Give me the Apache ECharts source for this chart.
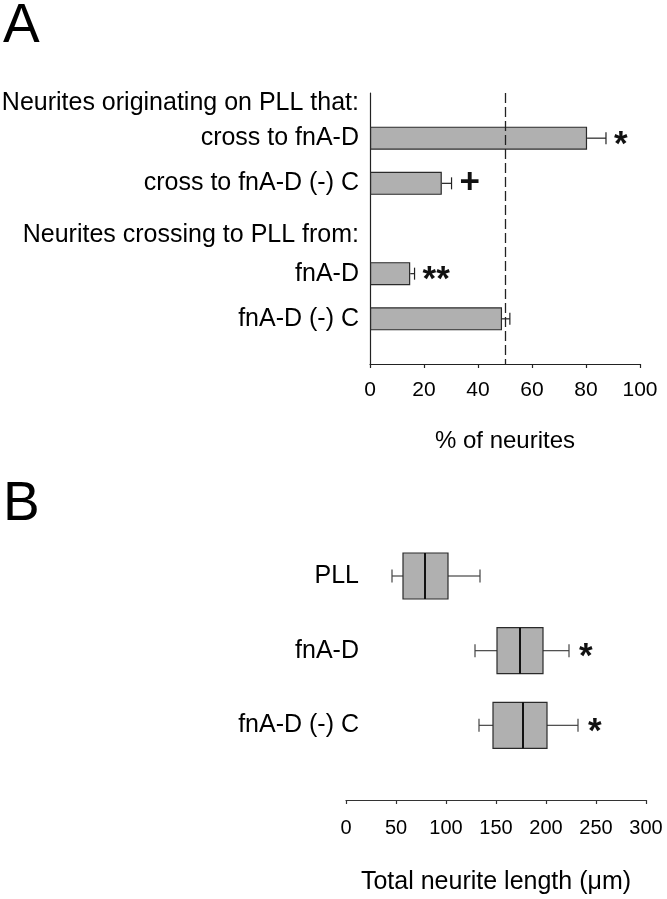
<!DOCTYPE html>
<html>
<head>
<meta charset="utf-8">
<script src="https://cdn.jsdelivr.net/npm/echarts@6/dist/echarts.min.js"></script>
<style>html,body{margin:0;padding:0;background:#fff}#c{width:667px;height:899px}</style>
</head>
<body>
<div id="c"></div>
<script>
// Panel A data
const headersA = ["Neurites originating on PLL that:", "Neurites crossing to PLL from:"];
const rowsA = ["cross to fnA-D", "cross to fnA-D (-) C", "fnA-D", "fnA-D (-) C"];
const pctNeurites = [80.4, 26.6, 14.9, 48.9];
const pctErr = [7.0, 3.6, 1.6, 2.9];
const sigA = ["*", "+", "**", ""];
const refLineA = 50;

// Panel B data
const groupsB = ["PLL", "fnA-D", "fnA-D (-) C"];
const lenMin = [46, 129, 133];
const lenQ1 = [57, 151, 147];
const lenMedian = [79, 174, 177];
const lenQ3 = [102, 197, 201];
const lenMax = [134, 223, 232];
const sigB = ["", "*", "*"];

const FONT = '"Liberation Sans", Arial, Helvetica, sans-serif';
const FILL = '#b0b0b0';
const EDGE = '#2a2a2a';

const catsA = [headersA[0], rowsA[0], rowsA[1], headersA[1], rowsA[2], rowsA[3], ''];
const catsB = groupsB.concat(['']);

function sigText(txt, x, y) {
  const fs = 35;
  const dy = txt.indexOf('*') >= 0 ? 0.2 * fs : 0;
  return {
    type: 'text',
    style: {
      text: txt, x: x, y: y + dy, fill: '#111',
      font: 'bold ' + fs + 'px ' + FONT,
      align: 'left', verticalAlign: 'middle'
    }
  };
}

const chart = echarts.init(document.getElementById('c'), null, {renderer: 'canvas'});
const option = {
  animation: false,
  backgroundColor: '#fff',
  textStyle: {fontFamily: FONT},
  title: [
    {text: 'A', left: 3, top: -1, padding: 0, textStyle: {fontSize: 55, fontWeight: 'normal', color: '#000', fontFamily: FONT}},
    {text: 'B', left: 3, top: 477, padding: 0, textStyle: {fontSize: 55, fontWeight: 'normal', color: '#000', fontFamily: FONT}}
  ],
  grid: [
    {left: 370, top: 93, width: 270, height: 271, outerBoundsMode: 'none'},
    {left: 346, top: 576, width: 300, height: 224, outerBoundsMode: 'none'}
  ],
  xAxis: [
    {
      gridIndex: 0, type: 'value', min: 0, max: 100, interval: 20,
      name: '% of neurites', nameLocation: 'middle', nameGap: 65,
      nameTextStyle: {fontSize: 24, color: '#000', fontFamily: FONT},
      axisLine: {show: true, lineStyle: {color: '#222', width: 1.2}},
      axisTick: {show: true, length: 4, lineStyle: {color: '#222', width: 1.2}},
      axisLabel: {fontSize: 21, color: '#000', margin: 16, fontFamily: FONT},
      splitLine: {show: false}
    },
    {
      gridIndex: 1, type: 'value', min: 0, max: 300, interval: 50,
      name: 'Total neurite length (\u03bcm)', nameLocation: 'middle', nameGap: 70,
      nameTextStyle: {fontSize: 25, color: '#000', fontFamily: FONT},
      axisLine: {show: true, lineStyle: {color: '#333', width: 1.2}},
      axisTick: {show: true, length: 4, lineStyle: {color: '#333', width: 1.2}},
      axisLabel: {fontSize: 20, color: '#000', margin: 18, fontFamily: FONT},
      splitLine: {show: false}
    }
  ],
  yAxis: [
    {
      gridIndex: 0, type: 'category', data: catsA, inverse: true, boundaryGap: false,
      axisLine: {show: true, lineStyle: {color: '#222', width: 1.2}},
      axisTick: {show: false},
      splitLine: {show: false},
      axisLabel: {
        interval: 0, margin: 11, fontSize: 25, color: '#000', fontFamily: FONT,
        formatter: function (v) {
          if (v === headersA[0]) return '{h1|' + v + '}';
          if (v === headersA[1]) return '{h2|' + v + '}';
          return v;
        },
        rich: {
          h1: {fontSize: 25, color: '#000', fontFamily: FONT, padding: [20, 0, 0, 0]},
          h2: {fontSize: 25, color: '#000', fontFamily: FONT, padding: [13, 0, 0, 0]}
        }
      }
    },
    {
      gridIndex: 1, type: 'category', data: catsB, inverse: true, boundaryGap: false,
      axisLine: {show: false}, axisTick: {show: false}, splitLine: {show: false},
      axisLabel: {interval: 0, margin: -13, fontSize: 25, color: '#000', fontFamily: FONT}
    }
  ],
  series: [
    {
      type: 'bar', xAxisIndex: 0, yAxisIndex: 0, barWidth: 23,
      data: rowsA.map((r, i) => [pctNeurites[i], r]),
      encode: {x: 0, y: 1},
      itemStyle: {color: FILL, borderColor: EDGE, borderWidth: 1.2},
      markLine: {
        silent: true, symbol: 'none', label: {show: false},
        lineStyle: {type: [10, 4], color: '#222', width: 1.3},
        data: [{xAxis: refLineA}]
      }
    },
    {
      type: 'custom', xAxisIndex: 0, yAxisIndex: 0,
      data: rowsA.map((r, i) => [pctNeurites[i], pctErr[i], r]),
      encode: {x: [0, 1], y: 2},
      renderItem: function (params, api) {
        const v = api.value(0), e = api.value(1), c = api.value(2);
        const p0 = api.coord([v, c]);
        const p1 = api.coord([v + e, c]);
        const st = {stroke: '#222', lineWidth: 1.2};
        const children = [
          {type: 'line', shape: {x1: p0[0], y1: p0[1], x2: p1[0], y2: p1[1]}, style: st},
          {type: 'line', shape: {x1: p1[0], y1: p1[1] - 6, x2: p1[0], y2: p1[1] + 6}, style: st}
        ];
        const s = sigA[params.dataIndex];
        if (s) children.push(sigText(s, p1[0] + 8, p1[1]));
        return {type: 'group', children: children};
      }
    },
    {
      type: 'custom', xAxisIndex: 1, yAxisIndex: 1,
      data: groupsB.map((g, i) => [lenMin[i], lenQ1[i], lenMedian[i], lenQ3[i], lenMax[i], g]),
      encode: {x: [0, 1, 2, 3, 4], y: 5},
      renderItem: function (params, api) {
        const c = api.value(5);
        const pMin = api.coord([api.value(0), c]);
        const pQ1 = api.coord([api.value(1), c]);
        const pMed = api.coord([api.value(2), c]);
        const pQ3 = api.coord([api.value(3), c]);
        const pMax = api.coord([api.value(4), c]);
        const y = pMed[1], h = 46, cap = 6.5;
        const ws = {stroke: '#444', lineWidth: 1.2};
        const children = [
          {type: 'line', shape: {x1: pMin[0], y1: y, x2: pQ1[0], y2: y}, style: ws},
          {type: 'line', shape: {x1: pQ3[0], y1: y, x2: pMax[0], y2: y}, style: ws},
          {type: 'line', shape: {x1: pMin[0], y1: y - cap, x2: pMin[0], y2: y + cap}, style: ws},
          {type: 'line', shape: {x1: pMax[0], y1: y - cap, x2: pMax[0], y2: y + cap}, style: ws},
          {type: 'rect', shape: {x: pQ1[0], y: y - h / 2, width: pQ3[0] - pQ1[0], height: h},
            style: {fill: FILL, stroke: EDGE, lineWidth: 1.2}},
          {type: 'line', shape: {x1: pMed[0], y1: y - h / 2, x2: pMed[0], y2: y + h / 2},
            style: {stroke: '#111', lineWidth: 2}}
        ];
        const s = sigB[params.dataIndex];
        if (s) children.push(sigText(s, pMax[0] + 10, y));
        return {type: 'group', children: children};
      }
    }
  ]
};
chart.setOption(option);
</script>
</body>
</html>
